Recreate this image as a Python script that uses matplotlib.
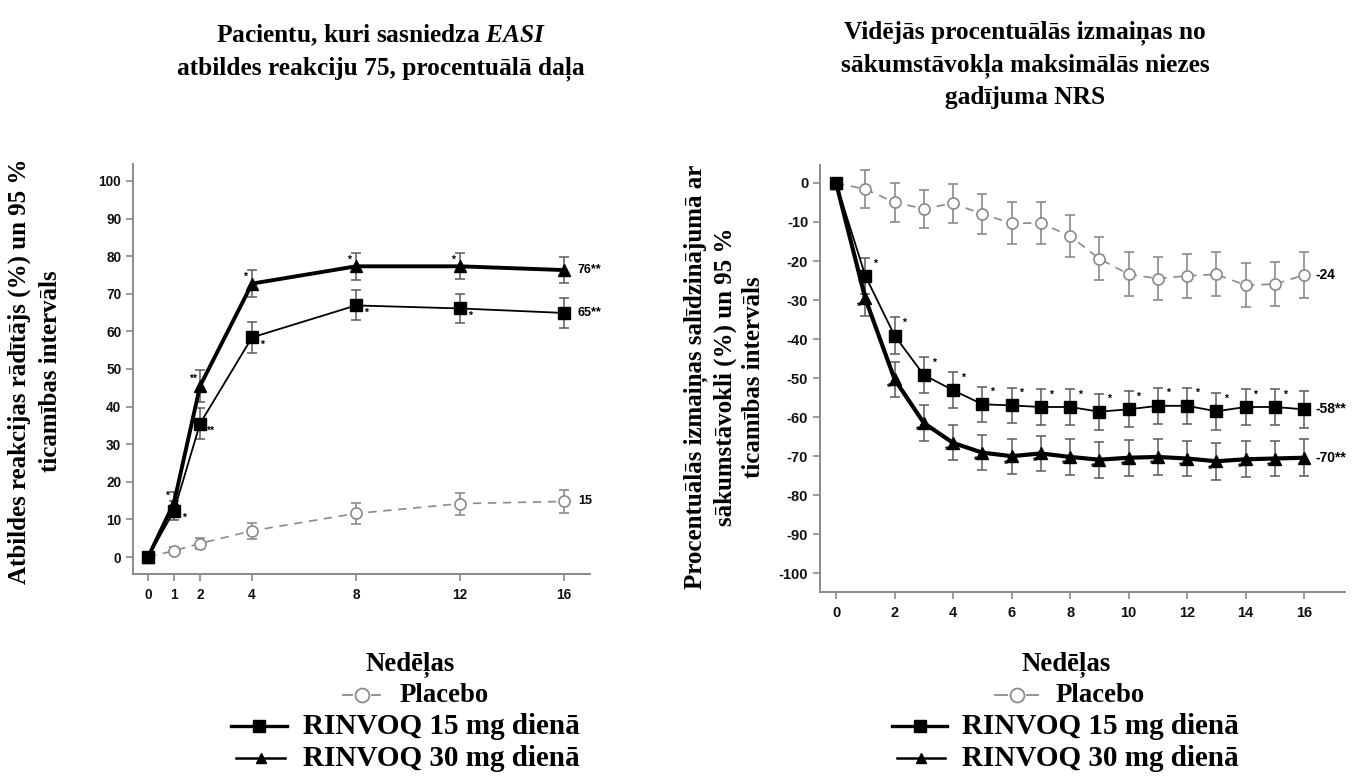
import numpy as np
import matplotlib
matplotlib.use("Agg")
import matplotlib.pyplot as plt
from matplotlib.lines import Line2D

plt.rcParams['font.weight'] = 'bold'
plt.rcParams['font.family'] = 'Liberation Sans'
plt.rcParams['axes.unicode_minus'] = False
plt.rcParams['mathtext.fontset'] = 'custom'
plt.rcParams['mathtext.rm'] = 'Liberation Serif:bold'
plt.rcParams['mathtext.it'] = 'Liberation Serif:italic:bold'

# ---- left panel: EASI 75 response (%) ----
weeks_l = [0, 1, 2, 4, 8, 12, 16]
pbo_l = [0, 1.7, 3.6, 7.0, 11.6, 14.2, 14.8]
pbo_l_err = [0, 1.0, 1.5, 2.1, 2.8, 2.9, 3.0]
r15_l = [0, 12.3, 35.5, 58.4, 66.9, 66.1, 64.9]
r15_l_err = [0, 2.5, 4.0, 4.1, 4.0, 3.9, 3.9]
r30_l = [0, 14.5, 45.5, 72.7, 77.3, 77.3, 76.3]
r30_l_err = [0, 2.8, 4.2, 3.6, 3.6, 3.5, 3.5]
r30_l_star = ['', '*', '**', '*', '*', '*', '']
r15_l_star = ['', '*', '**', '*', '*', '*', '']
end_l = ['15', '65**', '76**']

# ---- right panel: % change in worst pruritus NRS ----
weeks_r = list(range(17))
pbo_r = [0, -1.6, -5.0, -6.6, -5.2, -8.0, -10.3, -10.3, -13.6, -19.4,
         -23.4, -24.5, -23.8, -23.4, -26.2, -25.9, -23.6]
pbo_r_err = [0, 4.8, 5.0, 4.9, 5.0, 5.2, 5.3, 5.4, 5.4, 5.5,
             5.6, 5.6, 5.6, 5.6, 5.7, 5.7, 5.8]
r15_r = [0, -23.8, -39.1, -49.2, -53.1, -56.7, -57.0, -57.4, -57.4, -58.6,
         -58.0, -57.1, -57.1, -58.5, -57.4, -57.4, -58.0]
r15_r_err = [0, 4.6, 4.7, 4.7, 4.6, 4.5, 4.5, 4.5, 4.5, 4.6,
             4.6, 4.6, 4.6, 4.7, 4.6, 4.6, 4.7]
r30_r = [0, -29.6, -50.3, -61.5, -66.6, -69.1, -70.0, -69.3, -70.2, -70.9,
         -70.4, -70.2, -70.6, -71.3, -70.8, -70.6, -70.4]
r30_r_err = [0, 4.5, 4.5, 4.5, 4.5, 4.5, 4.5, 4.5, 4.5, 4.6,
             4.6, 4.6, 4.6, 4.7, 4.6, 4.6, 4.7]
star_r = [''] + ['*'] * 15 + ['']
end_r = ['-24', '-58**', '-70**']

legend_labels = ['Placebo', 'RINVOQ 15 mg dienā', 'RINVOQ 30 mg dienā']

serif = 'Liberation Serif'
sans = 'Liberation Sans'
grey = '#8a8a8a'
ebc = '#5a5a5a'

W, H = 1359, 778
fig = plt.figure(figsize=(W / 100, H / 100), dpi=100)


def px(x, y):
    return x / W, 1 - y / H


def style_axes(ax, size):
    for s in ['top', 'right']:
        ax.spines[s].set_visible(False)
    for s in ['left', 'bottom']:
        ax.spines[s].set_color(grey)
        ax.spines[s].set_linewidth(1.4)
    ax.tick_params(colors=grey, length=5, width=1.2, labelcolor='#111111',
                   labelsize=size, labelfontfamily=sans)
    ax.tick_params(axis='x', pad=5)


def draw_series(ax, x, y, e, kind, lw):
    y = np.array(y)
    e = np.array(e)
    xe = np.array(x[1:])
    if kind == 'pbo':
        ax.errorbar(xe, y[1:], yerr=e[1:], fmt='none', ecolor=grey,
                    elinewidth=1.2, capsize=3.5, capthick=1.2, zorder=2)
        ax.plot(x, y, color=grey, lw=1.2, ls=(0, (5, 4)), marker='o', ms=8,
                mfc='white', mec=grey, mew=1.2, zorder=3)
    else:
        ax.errorbar(xe, y[1:], yerr=e[1:], fmt='none', ecolor=ebc,
                    elinewidth=1.1, capsize=3.5, capthick=1.1, zorder=4)
        m = 's' if kind == 'r15' else '^'
        ax.plot(x, y, color='black', lw=lw, marker=m, ms=8,
                mfc='black', mec='black', zorder=5)


def stars(ax, x, y, labs, dx, dy):
    for xi, yi, s in zip(x, y, labs):
        if s:
            ax.annotate(s, (xi, yi), xytext=(dx, dy), textcoords='offset points',
                        ha='center', va='center', fontsize=7.5,
                        fontweight='bold', fontfamily=sans)


# ---- left axes ----
axl = fig.add_axes([133 / W, 1 - 574 / H, 457 / W, 410 / H])
axl.set_xlim(-0.58, 17.0)
axl.set_ylim(-4.5, 104.5)
axl.set_xticks(weeks_l)
axl.set_yticks(np.arange(0, 101, 10))
draw_series(axl, weeks_l, pbo_l, pbo_l_err, 'pbo', 1.2)
draw_series(axl, weeks_l, r15_l, r15_l_err, 'r15', 1.3)
draw_series(axl, weeks_l, r30_l, r30_l_err, 'r30', 2.8)
stars(axl, weeks_l, r30_l, r30_l_star, -5, 5)
stars(axl, weeks_l, r15_l, r15_l_star, 7, -5)
for yv, t in zip([pbo_l[-1], r15_l[-1], r30_l[-1]], end_l):
    axl.annotate(t, (weeks_l[-1], yv), xytext=(10, 0), textcoords='offset points',
                 ha='left', va='center', fontsize=9, fontweight='bold',
                 fontfamily=sans)
style_axes(axl, 9.8)

# ---- right axes ----
axr = fig.add_axes([820 / W, 1 - 592 / H, 525 / W, 427 / H])
axr.set_xlim(-0.55, 17.4)
axr.set_ylim(-104.8, 4.6)
axr.set_xticks(np.arange(0, 17, 2))
axr.set_yticks(np.arange(0, -101, -10))
draw_series(axr, weeks_r, pbo_r, pbo_r_err, 'pbo', 1.2)
draw_series(axr, weeks_r, r15_r, r15_r_err, 'r15', 1.3)
draw_series(axr, weeks_r, r30_r, r30_r_err, 'r30', 3.0)
stars(axr, weeks_r, r15_r, star_r, 7, 9)
stars(axr, weeks_r, r30_r, star_r, -5, -6)
for yv, t in zip([pbo_r[-1], r15_r[-1], r30_r[-1]], end_r):
    axr.annotate(t, (weeks_r[-1], yv), xytext=(8, 0), textcoords='offset points',
                 ha='left', va='center', fontsize=10, fontweight='bold',
                 fontfamily=sans)
style_axes(axr, 10.5)

# ---- titles and y labels ----
fig.text(*px(381, 22.5), 'Pacientu, kuri sasniedza $\\mathit{EASI}$\n'
         'atbildes reakciju 75, procentuālā daļa',
         ha='center', va='top', fontsize=18.3, fontweight='bold',
         fontfamily=serif, linespacing=1.47)
fig.text(*px(1025, 20.5), 'Vidējās procentuālās izmaiņas no\n'
         'sākumstāvokļa maksimālās niezes\ngadījuma NRS',
         ha='center', va='top', fontsize=18.3, fontweight='bold',
         fontfamily=serif, linespacing=1.45)
fig.text(*px(35, 371), 'Atbildes reakcijas rādītājs (%) un 95 %\nticamības intervāls',
         ha='center', va='center', rotation=90, fontsize=18,
         fontweight='bold', fontfamily=serif, linespacing=1.45)
fig.text(*px(724, 377), 'Procentuālās izmaiņas salīdzinājumā ar\n'
         'sākumstāvokli (%) un 95 %\nticamības intervāls',
         ha='center', va='center', rotation=90, fontsize=18,
         fontweight='bold', fontfamily=serif, linespacing=1.3)


# ---- x labels and legends ----
def legend_block(cx, ph, pt, rh, rt):
    fig.text(*px(cx, 665), 'Nedēļas', ha='center', va='center',
             fontsize=19.3, fontweight='bold', fontfamily=serif)
    # placebo handle
    y = 1 - 695 / H
    x0, x1 = ph
    xm = (x0 + x1) / 2
    fig.add_artist(Line2D([x0 / W, (xm - 10) / W], [y, y], color=grey, lw=1.3))
    fig.add_artist(Line2D([(xm + 10) / W, x1 / W], [y, y], color=grey, lw=1.3))
    fig.add_artist(Line2D([xm / W], [y], marker='o', ms=10, mfc='white',
                          mec=grey, mew=1.3))
    fig.text(*px(pt, 696), legend_labels[0], ha='left', va='center',
             fontsize=19.3, fontweight='bold', fontfamily=serif)
    for (hx, tx, yy, m, ms, lw, lab) in [
            (rh[0], rt, 726, 's', 9, 2.4, legend_labels[1]),
            (rh[1], rt, 758, '^', 7.5, 1.8, legend_labels[2])]:
        yf = 1 - yy / H
        fig.add_artist(Line2D([hx[0] / W, hx[1] / W], [yf, yf], color='black',
                              lw=lw))
        fig.add_artist(Line2D([(hx[0] + hx[1]) / 2 / W], [yf], marker=m,
                              ms=ms, color='black'))
        fig.text(*px(tx, yy), lab, ha='left', va='center', fontsize=21,
                 fontweight='bold', fontfamily=serif)


legend_block(410, (343, 380), 400, ((231, 287), (236, 285)), 303)
legend_block(1066, (995, 1038), 1056, ((892, 947), (897, 945)), 962)

fig.savefig('out.png', dpi=100)
